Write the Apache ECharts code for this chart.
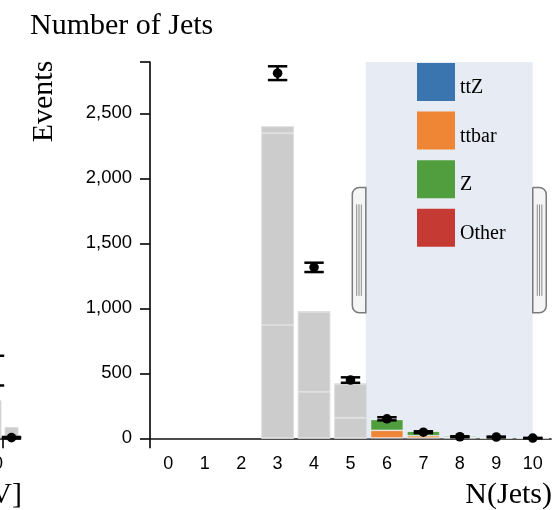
<!DOCTYPE html>
<html><head><meta charset="utf-8">
<script src="https://cdn.jsdelivr.net/npm/echarts@6/dist/echarts.min.js"></script>
<style>html,body{margin:0;padding:0;background:#fff}#c{width:555px;height:510px}</style>
</head><body><div id="c"></div>
<script>
// ---- data ----
const nJets    = ['0','1','2','3','4','5','6','7','8','9','10'];
const ttZ      = [0,0,0,2,3,3,3,2,1,0.5,0.2];
const ttbar    = [0,0,0,870,355,155,58,18,5,1,0.3];
const Zjets    = [0,0,0,1475,614,259,84,35,12,2,0.5];
const other    = [0,0,0,54,3,2,1,0.5,0.2,0,0];
const observed = [null,null,null,2809,1315,448,150,47,12,10,2];
const obsError = [null,null,null,53,36,21,12,7,3.5,3,1.4];
const yTicks   = [0,500,1000,1500,2000,2500];
const yMax     = 2895;
const brushRange = [5.42, 10];
// neighbouring (cut off) chart on the left
const leftBins  = [190, 210];
const leftBars  = [11.5, 3.4];
const leftObs   = [20.5, 0.2];
const leftErr   = [4.5, 0.2];
const leftTicks = [200];

const COLORS = {ttZ:'#3b75af', ttbar:'#ef8636', Z:'#519e3e', Other:'#c53a32'};
const GREY = '#cccccc';
const AX = '#111';
const SANS = '"Liberation Sans", Arial, Helvetica, sans-serif';
const SERIF = '"Liberation Serif", "Times New Roman", serif';

function inBrush(i){ return i >= brushRange[0] && i <= brushRange[1]; }

function barSeries(name, arr){
  const col = COLORS[name];
  return {
    type:'bar', name, stack:'mc', xAxisIndex:0, yAxisIndex:0, barWidth:32.7, z:2,
    silent:true, emphasis:{disabled:true},
    itemStyle:{color:col},
    data: arr.map((v,i)=>({
      value:v,
      itemStyle: inBrush(i)
        ? {color:col, borderColor:'rgba(255,255,255,0.25)', borderWidth: v > 0 ? 1 : 0}
        : {color:GREY, borderColor:'#dcdcdc', borderWidth: v > 0 ? 1 : 0}
    }))
  };
}

function errRender(params, api){
  const x = api.value(0), y = api.value(1), e = api.value(2);
  const p = api.coord([x, y]);
  const hi = api.coord([x, y + e]);
  const lo = api.coord([x, Math.max(0, y - e)]);
  const hw = 9.7;
  const st = {stroke:'#000', lineWidth:2.5};
  return {type:'group', children:[
    {type:'line', shape:{x1:p[0], y1:hi[1], x2:p[0], y2:lo[1]}, style:st},
    {type:'line', shape:{x1:p[0]-hw, y1:hi[1], x2:p[0]+hw, y2:hi[1]}, style:st},
    {type:'line', shape:{x1:p[0]-hw, y1:lo[1], x2:p[0]+hw, y2:lo[1]}, style:st},
    {type:'circle', shape:{cx:p[0], cy:p[1], r:4.8}, style:{fill:'#000'}}
  ]};
}

function brushRender(params, api){
  const L = api.coord([api.value(0), 0])[0];
  const R = api.coord([api.value(1), 0])[0];
  const top = api.coord([api.value(0), yMax])[1];
  const bot = api.coord([api.value(0), 0])[1];
  const h = bot - top;
  const hy = top + h/3, hh = h/3;
  const hwid = 13.5;
  const hs = {fill:'#f5f5f5', stroke:'#7a7a7a', lineWidth:1.5};
  const gs = {stroke:'#8a8a8a', lineWidth:1};
  const kids = [
    {type:'rect', shape:{x:L, y:top, width:R-L, height:h}, style:{fill:'#e6ebf4'}},
    {type:'rect', shape:{x:L-hwid, y:hy, width:hwid, height:hh, r:[7,0,0,7]}, style:hs},
    {type:'rect', shape:{x:R, y:hy, width:hwid, height:hh, r:[0,7,7,0]}, style:hs}
  ];
  [4.5, 6.8, 9.1].forEach(o=>{
    kids.push({type:'line', shape:{x1:L-o, y1:hy+17, x2:L-o, y2:hy+hh-17}, style:gs});
    kids.push({type:'line', shape:{x1:R+o, y1:hy+17, x2:R+o, y2:hy+hh-17}, style:gs});
  });
  return {type:'group', children:kids};
}

const obsData = [];
observed.forEach((v,i)=>{ if (v != null) obsData.push([i, v, obsError[i]]); });
const leftObsData = leftBins.map((b,i)=>[b, leftObs[i], leftErr[i]]);

const chart = echarts.init(document.getElementById('c'), null, {renderer:'canvas'});
chart.setOption({
  animation:false,
  backgroundColor:'#fff',
  grid:[
    {left:150, right:4, top:62, bottom:71.7, containLabel:false, outerBoundsMode:'none'},
    {left:-167, right:535, top:62, bottom:71.7, containLabel:false, outerBoundsMode:'none'}
  ],
  legend:{
    data:['ttZ','ttbar','Z','Other'], orient:'vertical', left:417, top:63, padding:0,
    itemWidth:38, itemHeight:38, itemGap:10.6, icon:'rect', selectedMode:false,
    formatter: n => '{t|' + n + '}',
    textStyle:{fontFamily:SERIF, fontSize:20, color:'#000',
      rich:{t:{fontFamily:SERIF, fontSize:20, color:'#000', padding:[12,0,0,0]}}}
  },
  xAxis:[
    {type:'category', gridIndex:0, data:nJets, boundaryGap:true,
     axisLine:{onZero:false, lineStyle:{color:AX, width:1.7}},
     axisTick:{alignWithLabel:true, length:10, lineStyle:{color:AX, width:1.7}},
     axisLabel:{fontFamily:SANS, fontSize:18, color:'#000', margin:17},
     splitLine:{show:false}},
    {type:'value', gridIndex:0, min:-0.5, max:10.5, position:'bottom',
     axisLine:{show:false, onZero:false}, axisLabel:{show:false}, splitLine:{show:false},
     axisTick:{show:true, length:10, customValues:[-0.5], lineStyle:{color:AX, width:1.7}}},
    {type:'value', gridIndex:1, min:0, max:220,
     axisLine:{onZero:false, lineStyle:{color:AX, width:1.7}}, splitLine:{show:false},
     axisTick:{length:10, customValues:leftTicks, lineStyle:{color:AX, width:1.7}},
     axisLabel:{customValues:leftTicks, align:'right', fontFamily:SANS, fontSize:18, color:'#000', margin:17}}
  ],
  yAxis:[
    {type:'value', gridIndex:0, min:0, max:yMax,
     axisLine:{show:true, onZero:false, lineStyle:{color:AX, width:1.7}},
     axisTick:{show:true, length:10, customValues:yTicks.concat([yMax]), lineStyle:{color:AX, width:1.7}},
     axisLabel:{customValues:yTicks, fontFamily:SANS, fontSize:18.5, color:'#000', margin:18,
       formatter:v=>Number(v).toLocaleString('en-US')},
     splitLine:{show:false}},
    {type:'value', gridIndex:1, min:0, max:114, show:false}
  ],
  series:[
    {type:'custom', name:'brush', xAxisIndex:1, yAxisIndex:0, z:1, silent:true,
     renderItem:brushRender, data:[[brushRange[0], brushRange[1]]]},
    barSeries('ttZ', ttZ),
    barSeries('ttbar', ttbar),
    barSeries('Z', Zjets),
    barSeries('Other', other),
    {type:'custom', name:'data', xAxisIndex:0, yAxisIndex:0, z:5, silent:true,
     renderItem:errRender, data:obsData},
    {type:'bar', name:'leftMC', xAxisIndex:2, yAxisIndex:1, barWidth:14, silent:true,
     itemStyle:{color:GREY, borderColor:'#dcdcdc', borderWidth:1},
     data:leftBins.map((b,i)=>[b, leftBars[i]])},
    {type:'custom', name:'leftData', xAxisIndex:2, yAxisIndex:1, z:5, silent:true,
     renderItem:errRender, data:leftObsData}
  ],
  graphic:[
    {type:'text', x:30, y:26, silent:true,
     style:{text:'Number of Jets', font:'30px '+SERIF, fill:'#000', align:'left', verticalAlign:'middle'}},
    {type:'text', x:44, y:101.5, rotation:Math.PI/2, silent:true,
     style:{text:'Events', font:'30px '+SERIF, fill:'#000', align:'center', verticalAlign:'middle'}},
    {type:'text', x:552, y:495, silent:true,
     style:{text:'N(Jets)', font:'30px '+SERIF, fill:'#000', align:'right', verticalAlign:'middle'}},
    {type:'text', x:22, y:495, silent:true,
     style:{text:'[GeV]', font:'30px '+SERIF, fill:'#000', align:'right', verticalAlign:'middle'}}
  ]
});
</script>
</body></html>
